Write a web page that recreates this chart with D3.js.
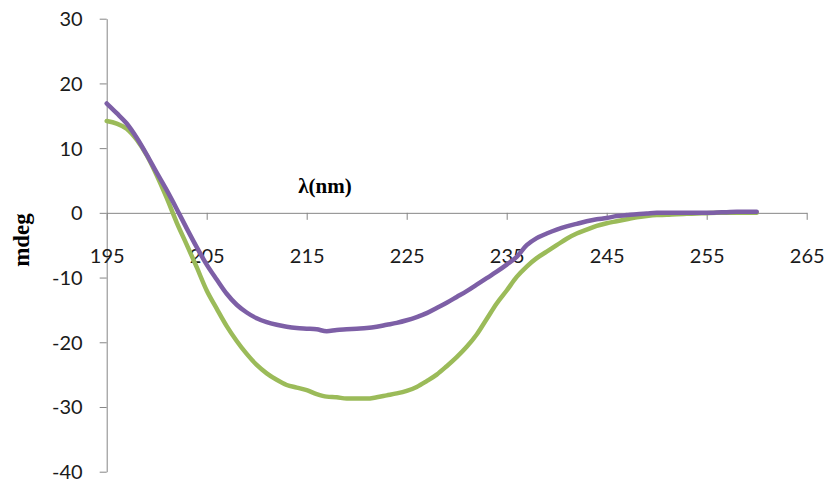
<!DOCTYPE html>
<html>
<head>
<meta charset="utf-8">
<script src="https://cdn.jsdelivr.net/npm/d3@7"></script>
<style>
  html, body { margin: 0; padding: 0; background: #ffffff; }
  svg { display: block; }
</style>
</head>
<body>
<svg id="chart" width="826" height="483"></svg>
<script>
// Wavelength grid (nm) and CD signal (mdeg) for the two samples
const wavelengths = d3.range(195, 261, 1);

const greenSeries = [
  14.2, 13.8, 13.0, 11.3, 8.9, 5.8, 2.3, -1.5, -4.9, -8.4,
  -12.0, -14.8, -17.5, -19.8, -21.8, -23.5, -24.8, -25.8, -26.6, -27.0,
  -27.4, -28.0, -28.4, -28.5, -28.7, -28.7, -28.7, -28.5, -28.2, -27.9,
  -27.5, -26.9, -26.0, -25.0, -23.7, -22.3, -20.7, -18.8, -16.4, -14.0,
  -12.0, -9.9, -8.3, -7.0, -6.0, -5.0, -4.0, -3.2, -2.6, -2.0,
  -1.6, -1.3, -1.0, -0.7, -0.5, -0.35, -0.3, -0.2, -0.15, -0.1,
  -0.05, 0, 0, 0, 0, 0
];

const purpleSeries = [
  16.9, 15.4, 13.8, 11.6, 9.0, 6.2, 3.5, 0.6, -2.4, -5.3,
  -8.0, -10.3, -12.5, -14.2, -15.4, -16.3, -16.9, -17.3, -17.6, -17.8,
  -17.9, -18.0, -18.3, -18.1, -18.0, -17.9, -17.8, -17.6, -17.3, -17.0,
  -16.6, -16.1, -15.5, -14.7, -13.9, -13.0, -12.1, -11.1, -10.1, -9.1,
  -8.0, -6.8, -5.0, -3.9, -3.2, -2.6, -2.1, -1.7, -1.3, -1.0,
  -0.8, -0.5, -0.35, -0.2, -0.1, 0, 0, 0, 0, 0,
  0, 0.05, 0.1, 0.15, 0.15, 0.15
];

const xTicks = [195, 205, 215, 225, 235, 245, 255, 265];
const yTicks = [30, 20, 10, 0, -10, -20, -30, -40];

const svg = d3.select("#chart");

const x = d3.scaleLinear().domain([195, 265]).range([106.7, 806.7]);
const y = d3.scaleLinear().domain([-40, 30]).range([471.7, 18.7]);

const axisColor = "#868686";
const labelFont = "Lato, 'Open Sans', sans-serif";
const plainNumber = d => String(d);

// Vertical axis with ticks pointing left
const yAxis = svg.append("g")
  .attr("transform", `translate(${x(195)},0)`)
  .call(d3.axisLeft(y).tickValues(yTicks).tickSize(7).tickSizeOuter(0).tickFormat(plainNumber));
yAxis.select(".domain").attr("stroke", axisColor);
yAxis.selectAll(".tick line").attr("stroke", axisColor);
yAxis.selectAll(".tick text")
  .attr("x", -24)
  .attr("dy", "0.35em")
  .style("font-family", labelFont)
  .style("font-size", "20px")
  .attr("fill", "#1a1a1a");

// Horizontal axis along zero, ticks pointing down, labels set lower
const xAxis = svg.append("g")
  .attr("transform", `translate(0,${y(0)})`)
  .call(d3.axisBottom(x).tickValues(xTicks).tickSize(7).tickSizeOuter(0).tickFormat(plainNumber));
xAxis.select(".domain").attr("stroke", axisColor);
xAxis.selectAll(".tick line").attr("stroke", axisColor);
xAxis.selectAll(".tick text")
  .attr("y", 43)
  .attr("dy", "0.35em")
  .style("font-family", labelFont)
  .style("font-size", "20px")
  .attr("fill", "#1a1a1a");

// Axis titles
svg.append("text")
  .attr("x", 325)
  .attr("y", 186)
  .attr("dy", "0.35em")
  .attr("text-anchor", "middle")
  .style("font-family", "'Liberation Serif', 'DejaVu Serif', serif")
  .style("font-weight", "bold")
  .style("font-size", "21px")
  .text("λ(nm)");

svg.append("text")
  .attr("transform", "translate(21,240) rotate(-90)")
  .attr("dy", "0.35em")
  .attr("text-anchor", "middle")
  .style("font-family", "'Liberation Serif', 'DejaVu Serif', serif")
  .style("font-weight", "bold")
  .style("font-size", "23px")
  .text("mdeg");

// Spectra
const line = d3.line()
  .x((d, i) => x(wavelengths[i]))
  .y(d => y(d))
  .curve(d3.curveMonotoneX);

svg.append("path")
  .datum(greenSeries)
  .attr("fill", "none")
  .attr("stroke", "#9BBB59")
  .attr("stroke-width", 4.5)
  .attr("stroke-linejoin", "round")
  .attr("stroke-linecap", "round")
  .attr("d", line);

svg.append("path")
  .datum(purpleSeries)
  .attr("fill", "none")
  .attr("stroke", "#7D5FA6")
  .attr("stroke-width", 4.5)
  .attr("stroke-linejoin", "round")
  .attr("stroke-linecap", "round")
  .attr("d", line);
</script>
</body>
</html>
